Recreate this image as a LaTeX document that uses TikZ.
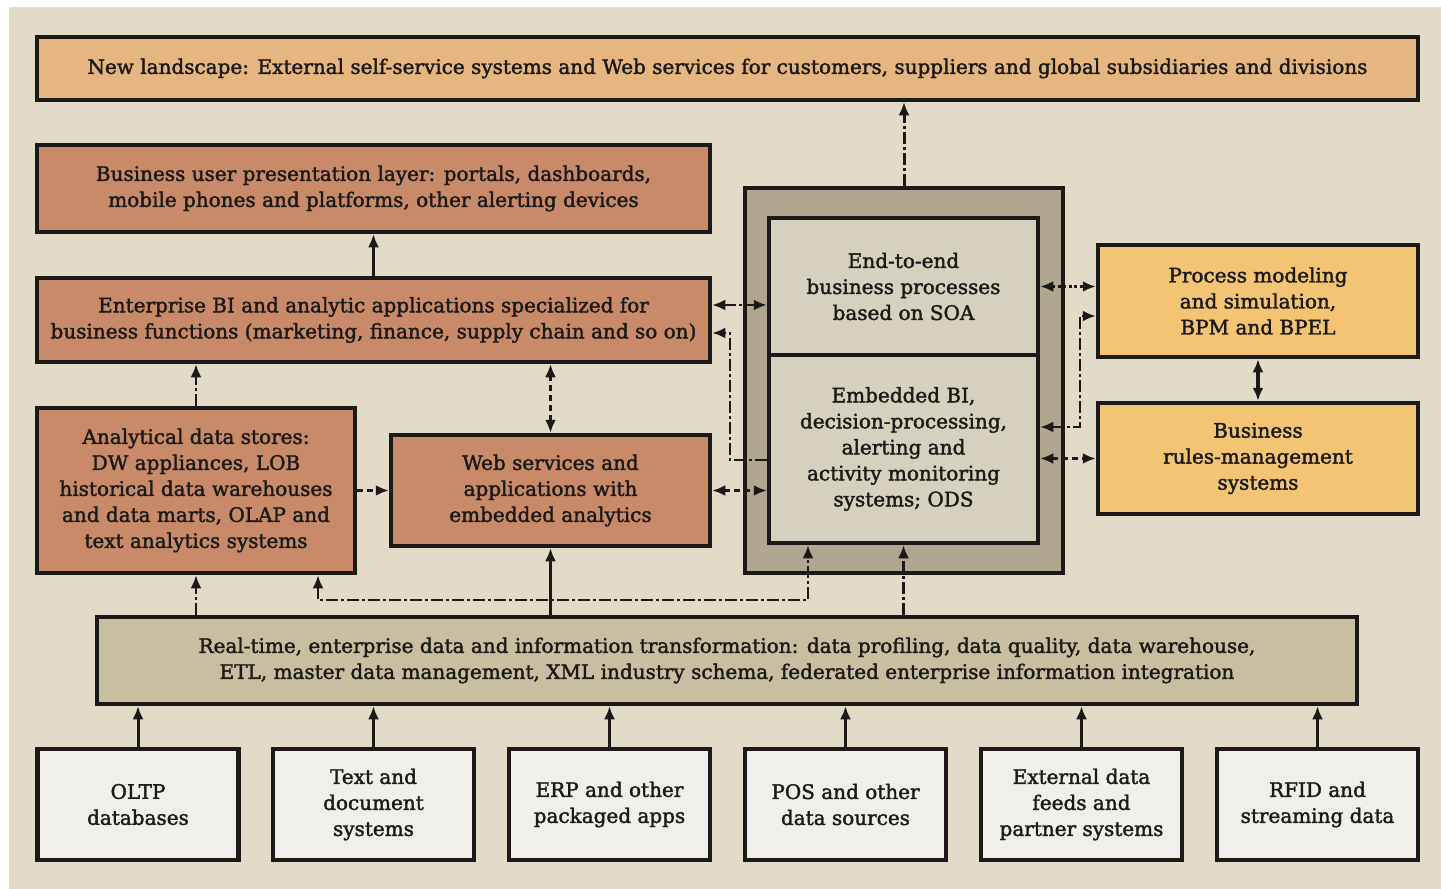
\documentclass[tikz,border=0pt]{standalone}
\usepackage{fontspec}
\setmainfont{DejaVu Serif}[FakeBold=1.8]
\usetikzlibrary{arrows.meta,calc}

\definecolor{paper}{HTML}{E2DBC8}
\definecolor{landfill}{HTML}{E6B680}
\definecolor{brickfill}{HTML}{C98A6A}
\definecolor{goldfill}{HTML}{F2C474}
\definecolor{panelout}{HTML}{B1A68F}
\definecolor{panelin}{HTML}{D6D0BE}
\definecolor{barfill}{HTML}{C9BEA0}
\definecolor{srcfill}{HTML}{F0EFEB}
\definecolor{ink}{HTML}{1C1A18}

\tikzset{
  blk/.style={draw=ink, line width=4.5pt, rectangle, align=center, inner sep=0pt,
              text=ink, font=\fontsize{20}{26}\selectfont},
  tip/.style={-{Latex[length=13pt,width=11pt]}},
  tips/.style={{Latex[length=13pt,width=11pt]}-{Latex[length=13pt,width=11pt]}},
  link/.style={draw=ink, line width=2.4pt},
  dashdot/.style={dash pattern=on 12pt off 3pt on 3pt off 3pt},
  shortdash/.style={dash pattern=on 6pt off 4pt},
  dotline/.style={dash pattern=on 3pt off 2.5pt},
}

\begin{document}
\begin{tikzpicture}[x=1pt,y=-1pt]
% page and paper
\fill[white] (0,0) rectangle (1441,889);
\fill[paper] (9,7) rectangle (1441,889);
\useasboundingbox (0,0) rectangle (1441,889);

% top band
\node[blk, fill=landfill, minimum width=1381, minimum height=63] (top) at (727.5,68.5)
  {New landscape: External self-service systems and Web services for customers, suppliers and global subsidiaries and divisions};

% left column
\node[blk, fill=brickfill, minimum width=673, minimum height=87] (pres) at (373.5,188.5)
  {Business user presentation layer: portals, dashboards,\\mobile phones and platforms, other alerting devices};
\node[blk, fill=brickfill, minimum width=673, minimum height=84] (ebi) at (373.5,320)
  {Enterprise BI and analytic applications specialized for\\business functions (marketing, finance, supply chain and so on)};
\node[blk, fill=brickfill, minimum width=318, minimum height=165] (ads) at (196,490.5)
  {Analytical data stores:\\DW appliances, LOB\\historical data warehouses\\and data marts, OLAP and\\text analytics systems};
\node[blk, fill=brickfill, minimum width=319, minimum height=111] (web) at (550.5,490.5)
  {Web services and\\applications with\\embedded analytics};

% central panel
\node[blk, fill=panelout, minimum width=318, minimum height=385] (panel) at (904,380.5) {};
\node[blk, fill=panelin, minimum width=269, minimum height=137] (soa) at (903.5,286.5)
  {End-to-end\\business processes\\based on SOA};
\node[blk, fill=panelin, minimum width=269, minimum height=188] (emb) at (903.5,449)
  {Embedded BI,\\decision-processing,\\alerting and\\activity monitoring\\systems; ODS};

% right column
\node[blk, fill=goldfill, minimum width=320, minimum height=112] (pm) at (1258,301)
  {Process modeling\\and simulation,\\BPM and BPEL};
\node[blk, fill=goldfill, minimum width=320, minimum height=111] (br) at (1258,458.5)
  {Business\\rules-management\\systems};

% integration bar
\node[blk, fill=barfill, minimum width=1260, minimum height=87] (bar) at (727,660.5)
  {Real-time, enterprise data and information transformation: data profiling, data quality, data warehouse,\\ETL, master data management, XML industry schema, federated enterprise information integration};

% sources
\foreach \nm/\cx/\txt in {s1/138/{OLTP\\databases},
                          s2/373.5/{Text and\\document\\systems},
                          s3/609.5/{ERP and other\\packaged apps},
                          s4/845.5/{POS and other\\data sources},
                          s5/1081.5/{External data\\feeds and\\partner systems},
                          s6/1317.5/{RFID and\\streaming data}}
  \node[blk, fill=srcfill, minimum width=201, minimum height=111] (\nm) at (\cx,804.5) {\txt};

% sources feed the integration bar
\foreach \nm in {s1,s2,s3,s4,s5,s6}
  \draw[link, tip, line width=3pt] (\nm.north) -- (\nm.north |- bar.south);

% vertical flows
\draw[link, tip, dashdot, line width=3pt] (panel.north) -- (panel.north |- top.south);
\draw[link, tip, line width=3pt] (ebi.north) -- (ebi.north |- pres.south);
\draw[link, tip, dashdot] (ads.north) -- (ads.north |- ebi.south);
\draw[link, tips, shortdash] (web.north) -- (web.north |- ebi.south);
\draw[link, tip, dashdot] (bar.north -| ads.south) -- (ads.south);
\draw[link, tip] (bar.north -| web.south) -- (web.south);
\draw[link, tip, dashdot, line width=3pt] (bar.north -| emb.south) -- (emb.south);

% loop from the analytical stores to the embedded BI block
\coordinate (loopA) at ($(ads.south)+(122,0)$);
\coordinate (loopB) at ($(emb.south)+(-95.5,0)$);
\draw[link, tips, dashdot] (loopA) -- ($(loopA)+(0,25)$) -| (loopB);

% horizontal flows, left side
\draw[link, tip, shortdash] (ads.east) -- (web.west);
\draw[link, tips, shortdash] (web.east) -- (web.east -| emb.west);
\coordinate (ebiA) at ($(ebi.east)+(0,-15)$);
\draw[link, tips, dashdot] (ebiA) -- (ebiA -| soa.west);
\coordinate (ebiB) at ($(ebi.east)+(0,13)$);
\coordinate (embL) at ($(emb.west)+(0,11)$);
\draw[link, tip, dashdot] (embL) -- ($(embL)+(-37,0)$) |- (ebiB);

% horizontal flows, right side
\draw[link, tips, dotline] (soa.east) -- (soa.east -| pm.west);
\coordinate (pmB) at ($(pm.west)+(0,15)$);
\coordinate (embR) at ($(emb.east)+(0,-22)$);
\draw[link, tips, dashdot] (embR) -- ($(embR)+(40,0)$) |- (pmB);
\draw[link, tips, shortdash] (br.west -| emb.east) -- (br.west);
\draw[link, tips, line width=4pt] (pm.south) -- (br.north);

\end{tikzpicture}
\end{document}
